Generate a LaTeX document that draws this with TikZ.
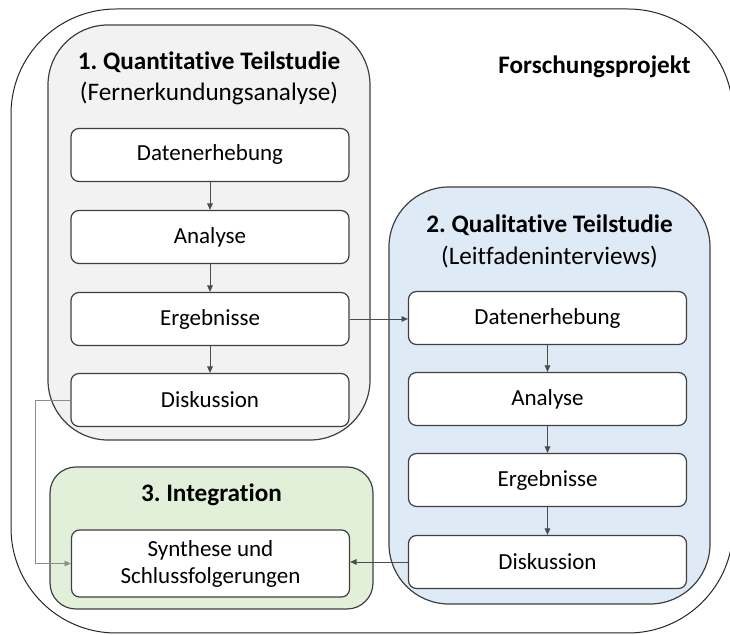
\documentclass[tikz,border=0pt]{standalone}
\usepackage{fontspec}
\setmainfont{Carlito}[Ligatures={TeX,NoCommon}]
\usetikzlibrary{arrows.meta}
\definecolor{panelgray}{HTML}{F2F2F2}
\definecolor{panelblue}{HTML}{DEEBF7}
\definecolor{panelgreen}{HTML}{E2F0D9}
\definecolor{linegray}{HTML}{404040}
\frenchspacing
\begin{document}
\begin{tikzpicture}[x=0.5pt,y=-0.5pt,every node/.style={font=\fontsize{11.5}{14}\selectfont},
    panel/.style={draw=linegray,line width=0.6pt,rounded corners=30pt,inner sep=0pt},
    stagebox/.style={draw=linegray,line width=0.6pt,fill=white,rounded corners=4pt,minimum width=139pt,minimum height=26.5pt,inner sep=0pt},
    headline/.style={font=\fontsize{12.6}{15}\selectfont\bfseries},
    subline/.style={font=\fontsize{12.6}{15}\selectfont},
    flow/.style={draw=black!70,line width=0.4pt,-{Triangle[length=3.2pt,width=2.8pt]}}]
    \useasboundingbox (0,0) rectangle (730,635);
    % frame and panels
    \begin{scope}
    \clip (0,0) rectangle (730,635);
    \draw[black!85,line width=0.5pt,rounded corners=52.5pt] (11,9) rectangle (733,633);
    \end{scope}
    \node[panel,fill=panelgray,minimum width=161pt,minimum height=207.5pt] (quant) at (209,232.5) {};
    \node[panel,fill=panelblue,minimum width=160.5pt,minimum height=208.5pt] (qual) at (549.5,395.5) {};
    \node[panel,fill=panelgreen,rounded corners=13pt,minimum width=161.5pt,minimum height=71pt] (integ) at (211.5,538) {};
    \node[headline] (projtitle) at (594.5,67) {Forschungsprojekt};
    \node[headline] (quanttitle) at (209,62) {1. Quantitative Teilstudie};
    \node[subline] (quantsub) at (209,93) {(Fernerkundungsanalyse)};
    \node[headline] (qualtitle) at (549.5,225) {2. Qualitative Teilstudie};
    \node[subline] (qualsub) at (549.5,257) {(Leitfadeninterviews)};
    \node[headline] (integtitle) at (211.5,495) {3. Integration};
    % stages
    \foreach \name/\yy/\txt in {1/155/Datenerhebung,2/237/Analyse,3/319/Ergebnisse,4/400/Diskussion} {
        \node[stagebox] (qn\name) at (210,\yy) {\txt};
    }
    \foreach \name/\yy/\txt in {1/318/Datenerhebung,2/399/Analyse,3/480/Ergebnisse,4/562/Diskussion} {
        \node[stagebox] (ql\name) at (547.5,\yy) {\txt};
    }
    \node[stagebox,minimum height=33.5pt,align=center,font=\fontsize{11.5}{13.5}\selectfont] (syn) at (210.5,563.5) {Synthese und\\Schlussfolgerungen};
    % connectors
    \foreach \i/\j in {1/2,2/3,3/4} {
        \draw[flow] (qn\i) -- (qn\j);
        \draw[flow] (ql\i) -- (ql\j);
    }
    \draw[flow] (qn3.east) -- (qn3.east -| ql1.west);
    \draw[flow,draw=black!45] (qn4.west) -- ([xshift=-17.5pt]qn4.west) |- (syn.west);
    \draw[flow] (ql4.west) -- (ql4.west -| syn.east);
\end{tikzpicture}
\end{document}
